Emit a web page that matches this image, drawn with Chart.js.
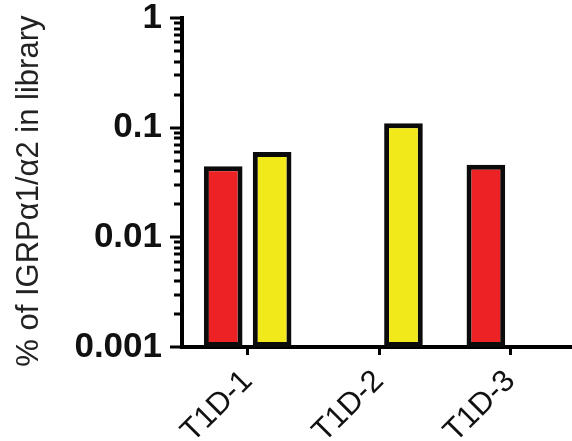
<!DOCTYPE html>
<html>
<head>
<meta charset="utf-8">
<script src="https://cdn.jsdelivr.net/npm/chart.js@4/dist/chart.umd.min.js"></script>
<style>
  html, body { margin: 0; padding: 0; background: #fff; overflow: hidden; }
  #wrap { width: 572px; height: 441px; overflow: hidden; }
  #wrap canvas { display: block; }
</style>
</head>
<body>
<div id="wrap"><canvas id="chart" width="576" height="441"></canvas></div>
<script>
const categories = ['T1D-1', 'T1D-2', 'T1D-3'];
const redValues = [0.0445, null, 0.046];
const yellowValues = [0.06, 0.11, null];
const majorTicks = [0.001, 0.01, 0.1, 1];
const minorFactors = [2, 3, 4, 5, 6, 7, 8, 9];

const FONT = "'Liberation Sans', Arial, Helvetica, sans-serif";

const isMajor = v => majorTicks.some(m => Math.abs(m - v) < m * 1e-6);

// draws the y ticks: long at each decade, short in between
const logTicks = {
  id: 'logTicks',
  afterDraw(chart) {
    const scale = chart.scales.y;
    const ctx = chart.ctx;
    const x = chart.chartArea.left - 2;
    ctx.save();
    ctx.strokeStyle = '#000';
    ctx.lineWidth = 3;
    scale.ticks.forEach(t => {
      const y = Math.round(scale.getPixelForValue(t.value));
      const len = isMajor(t.value) ? 10 : 6;
      ctx.beginPath();
      ctx.moveTo(x - len, y);
      ctx.lineTo(x, y);
      ctx.stroke();
    });
    ctx.restore();
  }
};

new Chart(document.getElementById('chart').getContext('2d'), {
  type: 'bar',
  data: {
    labels: categories,
    datasets: [{
      data: redValues,
      backgroundColor: '#ED2224',
      borderColor: '#0b0b0b',
      borderWidth: 5,
      borderSkipped: false
    }, {
      data: yellowValues,
      backgroundColor: '#F2E91A',
      borderColor: '#0b0b0b',
      borderWidth: 5,
      borderSkipped: false
    }]
  },
  options: {
    responsive: false,
    animation: false,
    categoryPercentage: 0.745,
    barPercentage: 0.79,
    layout: { padding: 0 },
    plugins: {
      legend: { display: false },
      tooltip: { enabled: false }
    },
    scales: {
      x: {
        grid: {
          offset: false,
          drawOnChartArea: false,
          drawTicks: true,
          tickLength: 8,
          tickWidth: 3,
          tickColor: '#000'
        },
        border: { color: '#000', width: 4 },
        ticks: {
          minRotation: 45,
          maxRotation: 45,
          padding: 8,
          color: '#111',
          font: { family: FONT, size: 31 }
        },
        afterFit: s => { s.height = 94; s.paddingLeft = 0; s.paddingRight = 0; }
      },
      y: {
        type: 'logarithmic',
        min: 0.001,
        max: 1,
        grid: { display: true, drawOnChartArea: false, drawTicks: false },
        border: { color: '#000', width: 4 },
        ticks: {
          autoSkip: false,
          padding: 20,
          color: '#111',
          font: { family: FONT, size: 35, weight: 'bold' },
          callback: v => isMajor(v) ? String(v) : ''
        },
        afterBuildTicks: s => {
          const list = [];
          majorTicks.forEach(m => {
            list.push({ value: m });
            if (m < 1) minorFactors.forEach(f => list.push({ value: m * f }));
          });
          s.ticks = list;
        },
        title: {
          display: true,
          text: '% of IGRPα1/α2 in library  ',
          color: '#222',
          padding: { top: 11, bottom: 0 },
          font: { family: FONT, size: 31 }
        },
        afterFit: s => { s.width = 182; s.paddingTop = 18; s.paddingBottom = 0; }
      }
    }
  },
  plugins: [logTicks]
});
</script>
</body>
</html>
